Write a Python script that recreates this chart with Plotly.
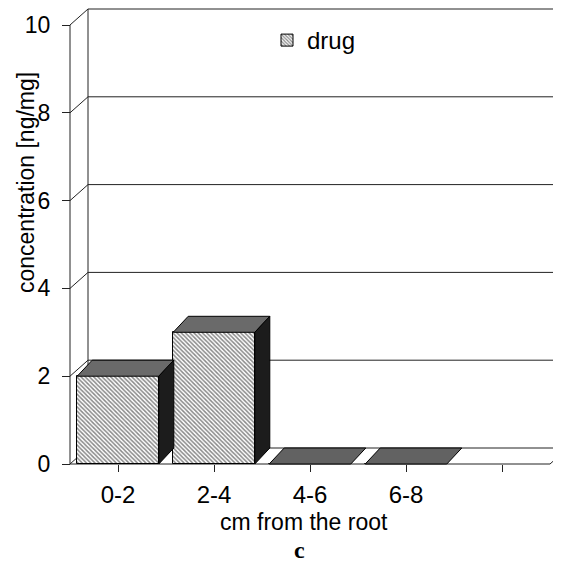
import plotly.graph_objects as go

# ---------------- data ----------------
categories = ["0-2", "2-4", "4-6", "6-8", ""]
drug = [2.0, 3.0, 0.0, 0.0, None]
y_ticks = [0, 2, 4, 6, 8, 10]
series_name = "drug"
x_title = "cm from the root"
y_title = "concentration [ng/mg]"
panel_label = "c"

# ---------------- layout geometry ----------------
# The page places the figure 8 px from the top-left corner (body margin),
# so the figure is made smaller and every position is shifted by 8 px.
OFF = 8
W, H = 561 - OFF, 564 - OFF
X0PX, XSTEP = 118 - OFF, 96.0     # pixel of first category centre, px per category
Y0PX, YSTEP = 464 - OFF, 43.9     # pixel of value 0, px per unit
L, R, T, B = 52, 0, 0, 91

x_lo = (L - X0PX) / XSTEP
x_hi = (W - R - X0PX) / XSTEP
y_hi = (Y0PX - T) / YSTEP
y_lo = (Y0PX - (H - B)) / YSTEP

DXW = 18 / XSTEP            # depth offset of walls (x, category units)
DXB = 15 / XSTEP            # depth offset of bars
DY = 16 / YSTEP             # depth offset (y, value units)
BAR_W = 0.85
n = len(categories)
ymax = max(y_ticks)

FONT = "Liberation Sans, Arial, Helvetica, sans-serif"
SERIF = "Liberation Serif, Times New Roman, serif"
LINE = "#222222"


def px_to_paper_x(px):
    return (px - OFF - L) / (W - L - R)


def px_to_paper_y(py):
    return (H - B - (py - OFF)) / (H - T - B)


fig = go.Figure()

# ---------------- walls / gridlines (shapes below traces) ----------------
shapes = []


def seg(x0, y0, x1, y1, color=LINE, width=1):
    shapes.append(dict(type="line", xref="x", yref="y", x0=x0, y0=y0, x1=x1, y1=y1,
                       line=dict(color=color, width=width), layer="below"))


left = -0.5
seg(left, 0, left, ymax)                                   # front value axis
for v in y_ticks:
    seg(left, v, left + DXW, v + DY)                        # side-wall diagonal
    seg(left + DXW, v + DY, x_hi + 1, v + DY)               # back-wall gridline
seg(left + DXW, DY, left + DXW, ymax + DY)                  # back-left edge
seg(left, 0, n - 0.5, 0)                                    # floor front edge
seg(n - 0.5, 0, n - 0.5 + DXW, DY)                          # floor right edge

# ---------------- bars ----------------
xs = [i for i, v in enumerate(drug) if v is not None]
vals = [v for v in drug if v is not None]

fig.add_trace(go.Bar(
    x=xs, y=vals, width=BAR_W, name=series_name, showlegend=True,
    marker=dict(color="white",
                line=dict(color="black", width=1),
                pattern=dict(shape="\\", fgcolor="#111111", bgcolor="white",
                             size=3, solidity=0.5)),
    hoverinfo="skip",
))

TOP_COLOR = "#6a6a6a"
FLAT_COLOR = "#626262"
SIDE_COLOR = "#1c1c1c"
for i, v in zip(xs, vals):
    xl, xr = i - BAR_W / 2, i + BAR_W / 2
    # top face
    fig.add_trace(go.Scatter(
        x=[xl, xr, xr + DXB, xl + DXB, xl],
        y=[v, v, v + DY, v + DY, v],
        mode="lines", fill="toself", fillcolor=TOP_COLOR if v > 0 else FLAT_COLOR,
        line=dict(color="black", width=1), showlegend=False, hoverinfo="skip"))
    # side face
    if v > 0:
        fig.add_trace(go.Scatter(
            x=[xr, xr, xr + DXB, xr + DXB, xr],
            y=[0, v, v + DY, DY, 0],
            mode="lines", fill="toself", fillcolor=SIDE_COLOR,
            line=dict(color="black", width=1), showlegend=False, hoverinfo="skip"))

# ---------------- axes ----------------
fig.update_xaxes(
    range=[x_lo, x_hi], anchor="free",
    position=(0 - y_lo) / (y_hi - y_lo),
    tickmode="array", tickvals=list(range(n)), ticktext=categories,
    ticks="outside", ticklen=7, tickcolor=LINE, tickwidth=1,
    ticklabelstandoff=2,
    showline=False, showgrid=False, zeroline=False, automargin=False,
    tickfont=dict(family=FONT, size=24, color="black"),
)
fig.update_yaxes(
    range=[y_lo, y_hi], anchor="free",
    position=(left - x_lo) / (x_hi - x_lo),
    tickmode="array", tickvals=y_ticks, ticktext=[str(t) for t in y_ticks],
    ticks="outside", ticklen=8, tickcolor=LINE, tickwidth=1,
    ticklabelstandoff=7,
    showline=False, showgrid=False, zeroline=False, automargin=False,
    tickfont=dict(family=FONT, size=23, color="black"),
)

# ---------------- titles ----------------
annotations = [
    dict(text=y_title, xref="paper", yref="paper",
         x=px_to_paper_x(26), y=px_to_paper_y(183), textangle=-90,
         showarrow=False, xanchor="center", yanchor="middle", borderpad=0,
         font=dict(family=FONT, size=23, color="black")),
    dict(text=x_title, xref="paper", yref="paper",
         x=px_to_paper_x(304), y=px_to_paper_y(522),
         showarrow=False, xanchor="center", yanchor="middle", borderpad=0,
         font=dict(family=FONT, size=23, color="black")),
    dict(text="<b>" + panel_label + "</b>", xref="paper", yref="paper",
         x=px_to_paper_x(299), y=px_to_paper_y(550),
         showarrow=False, xanchor="center", yanchor="middle", borderpad=0,
         font=dict(family=SERIF, size=24, color="black")),
]

fig.update_layout(
    width=W, height=H,
    margin=dict(l=L, r=R, t=T, b=B, pad=0, autoexpand=False),
    paper_bgcolor="white", plot_bgcolor="white",
    shapes=shapes, annotations=annotations,
    showlegend=True,
    legend=dict(x=px_to_paper_x(267), y=px_to_paper_y(18), xanchor="left", yanchor="top",
                bgcolor="rgba(0,0,0,0)", font=dict(family=FONT, size=24, color="black"),
                itemwidth=30),
    bargap=0,
)

fig.write_html("out.html")
